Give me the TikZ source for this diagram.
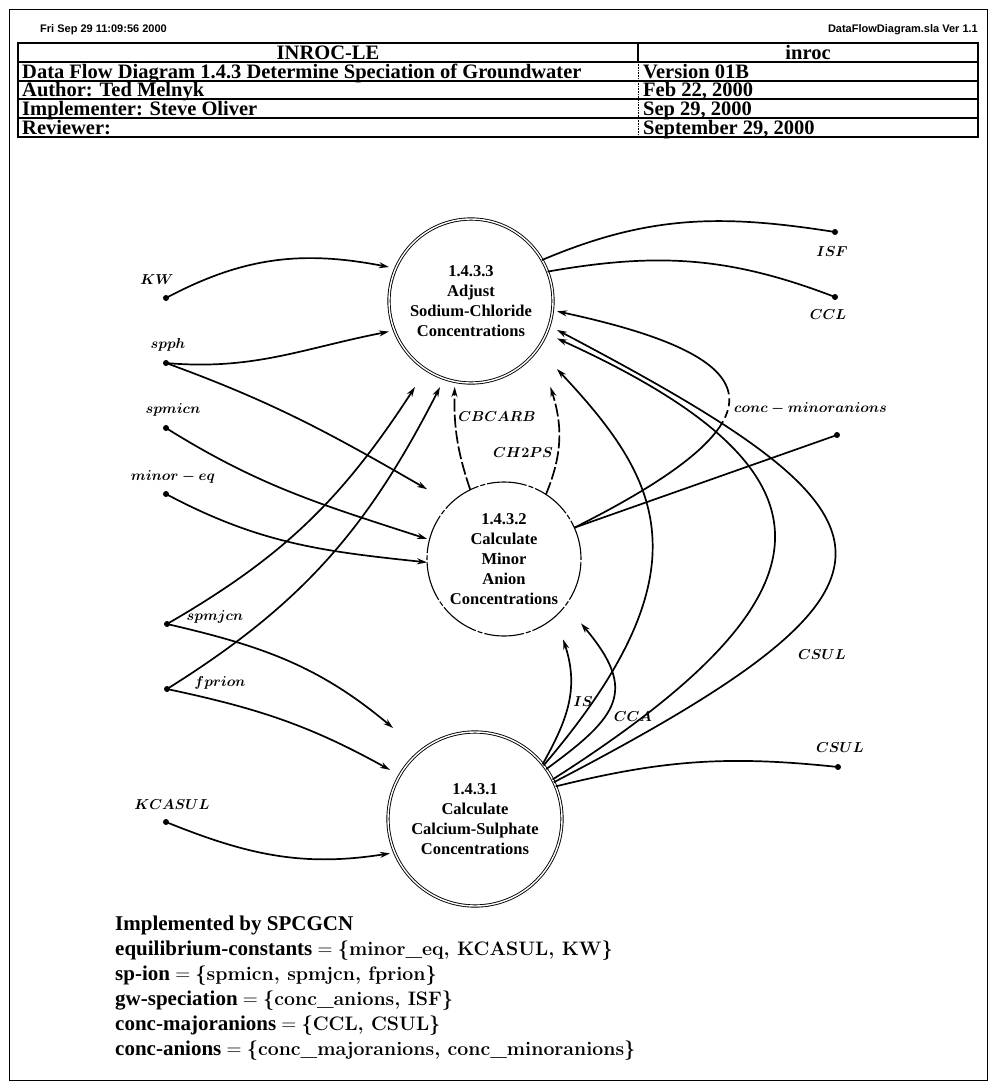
\documentclass[tikz,border=0pt]{standalone}
\usepackage{fontspec}
\newfontfamily\tms{Liberation Serif}
\newfontfamily\hlv{Liberation Sans}
\newcommand\setfnt{\rmfamily\fontseries{bx}\selectfont\fontsize{19.5}{24}\selectfont}
\usetikzlibrary{arrows.meta}
\begin{document}
\begin{tikzpicture}[x=1pt,y=-1pt,
  outerframe/.style={line width=1pt},
  tbl/.style={line width=1.5pt},
  hdr/.style={font=\tms\bfseries\fontsize{20.5}{24}\selectfont, inner sep=0pt, anchor=base west},
  tinytxt/.style={font=\hlv\bfseries\fontsize{11}{12}\selectfont, inner sep=0pt},
  proc/.style={circle, minimum size=#1, inner sep=0pt, outer sep=0pt, align=center, font=\tms\bfseries\fontsize{16.5}{20}\selectfont},
  dbl/.style={draw, line width=0.9pt, double distance=1.4pt},
  dsh/.style={draw, line width=1.1pt, dash pattern=on 40pt off 2pt on 5pt off 2pt},
  box/.style={rectangle, inner sep=0pt, outer sep=0pt},
  dot/.style={circle, fill, inner sep=0pt, minimum size=6pt},
  lab/.style={inner sep=1pt, font=\fontsize{15.5}{17}\selectfont\boldmath},
  flow/.style={line width=1.7pt, -{Stealth[length=10pt,width=6pt]}},
  conn/.style={line width=1.7pt},
  dflow/.style={flow, dash pattern=on 13pt off 3pt},
  btxt/.style={inner sep=0pt, anchor=base west, font=\tms\bfseries\fontsize{21}{24}\selectfont}
]
\useasboundingbox (0,0) rectangle (992,1085);
\draw[outerframe] (9,9) rectangle (987,1080);

% header
\node[tinytxt, anchor=west] (date) at (40,30) {Fri Sep 29 11:09:56 2000};
\node[tinytxt, anchor=east] (file) at (978,30) {DataFlowDiagram.sla Ver 1.1};
\draw[tbl] (18,43) rectangle (978,137);
\foreach \yy in {62,81,99,118} \draw[tbl] (18,\yy) -- (978,\yy);
\draw[tbl] (638,43) -- (638,62);
\draw[line width=0.6pt, densely dotted] (638,62) -- (638,137);
\node[hdr, anchor=base] (t1a) at (328,59) {INROC-LE};
\node[hdr, anchor=base] (t1b) at (808,59) {inroc};
\node[hdr] (t2a) at (22,78) {Data Flow Diagram 1.4.3 Determine Speciation of Groundwater};
\node[hdr] (t2b) at (643,78) {Version 01B};
\node[hdr] (t3a) at (22,96.5) {Author: Ted Melnyk};
\node[hdr] (t3b) at (643,96.5) {Feb 22, 2000};
\node[hdr] (t4a) at (22,115) {Implementer: Steve Oliver};
\node[hdr] (t4b) at (643,115) {Sep 29, 2000};
\node[hdr] (t5a) at (22,134) {Reviewer:};
\node[hdr] (t5b) at (643,134) {September 29, 2000};

% processes
\node[proc=164pt, dbl] (c3) at (471,301) {1.4.3.3\\Adjust\\Sodium-Chloride\\Concentrations};
\node[box, minimum width=168pt, minimum height=172pt] (b3) at (473,301) {};
\node[proc=154pt, dsh] (c2) at (504,559) {1.4.3.2\\Calculate\\Minor\\Anion\\Concentrations};
\node[box, minimum width=154pt, minimum height=157pt] (b2) at (504,561) {};
\node[proc=174pt, dbl] (c1) at (475,819) {1.4.3.1\\Calculate\\Calcium-Sulphate\\Concentrations};
\node[box, minimum width=170pt, minimum height=182pt] (b1) at (475,819) {};

% external ends
\node[dot] (kw) at (166,298) {};
\node[dot] (spph) at (166,363) {};
\node[dot] (spmicn) at (166,428) {};
\node[dot] (minoreq) at (166,494) {};
\node[dot] (spmjcn) at (167,624) {};
\node[dot] (fprion) at (167,689) {};
\node[dot] (kcasul) at (166,822) {};
\node[dot] (isf) at (835,232) {};
\node[dot] (ccl) at (835,297) {};
\node[dot] (cmin) at (837,435) {};
\node[dot] (csul) at (838,767) {};

% labels
\node[lab] (lkw) at (157,280) {$KW$};
\node[lab] (lspph) at (168,345) {$spph$};
\node[lab] (lspmicn) at (173,410) {$spmicn$};
\node[lab] (lminoreq) at (173,477) {$minor-eq$};
\node[lab] (lspmjcn) at (215,617) {$spmjcn$};
\node[lab] (lfprion) at (220,683) {$fprion$};
\node[lab] (lkcasul) at (172,805) {$KCASUL$};
\node[lab] (lisf) at (832,252) {$ISF$};
\node[lab] (lccl) at (828,315) {$CCL$};
\node[lab, anchor=west] (lconc) at (733,408) {$conc-minoranions$};
\node[lab] (lcsul) at (840,748) {$CSUL$};
\node[lab] (lcsul2) at (822,655) {$CSUL$};
\node[lab] (lcbcarb) at (497,417) {$CBCARB$};
\node[lab] (lch2ps) at (523,453) {$CH2PS$};
\node[lab] (lis) at (583,702) {$IS$};
\node[lab] (lcca) at (633,717) {$CCA$};

% inputs
\draw[flow] (kw.center) to[out=28,in=169] (b3.158);
\draw[flow] (spph.center) to[out=-5,in=191] (b3.200);
\draw[flow] (spph.center) to[out=-20,in=150] (b2.137);
\draw[flow] (spmicn.center) to[out=-32,in=162] (b2.164);
\draw[flow] (minoreq.center) to[out=-28,in=174] (b2.181);
\draw[flow] (spmjcn.center) to[out=30,in=237] (b3.236);
\draw[flow] (fprion.center) to[out=32,in=243] (b3.249);
\draw[flow] (spmjcn.center) to[out=-13,in=140] (b1.132);
\draw[flow] (fprion.center) to[out=-12,in=151] (b1.150);
\draw[flow] (kcasul.center) to[out=-22,in=189] (b1.202);

% between processes
\draw[flow] (c1.39) .. controls (566,722) and (580,690) .. (b2.307.7);
\draw[flow] (c1.35) .. controls (619,716) and (638,691) .. (b2.321);
\draw[flow] (c1.38) .. controls (713,567) and (658,477) .. (b3.321.8);
\draw[flow] (c1.27) .. controls (842,595) and (853,473) .. (b3.336.8);
\draw[flow] (c1.25) .. controls (942,580) and (914,518) .. (b3.341);
\draw[flow, dash pattern=on 185pt off 4pt on 8pt off 4pt on 8pt off 4pt on 300pt] (c2.24) .. controls (795,417) and (770,357) .. (b3.353.9);
\draw[dflow] (c2.116) to[bend left=10] (b3.258.2);
\draw[dflow] (c2.57) to[bend right=20] (b3.312.6);

% outputs
\draw[conn] (c1.22) to[bend left=10] (csul.center);
\draw[conn] (c2.24) -- (cmin.center);
\draw[conn] (c3.30) to[out=23,in=171] (isf.center);
\draw[conn] (c3.21) to[out=10,in=159] (ccl.center);

% bottom text
\node[btxt] (n1) at (115,930) {Implemented by SPCGCN};
\node[btxt] (n2) at (115,955) {equilibrium-constants $=$ {\setfnt\{minor\_eq, KCASUL, KW\}}};
\node[btxt] (n3) at (115,980) {sp-ion $=$ {\setfnt\{spmicn, spmjcn, fprion\}}};
\node[btxt] (n4) at (115,1005) {gw-speciation $=$ {\setfnt\{conc\_anions, ISF\}}};
\node[btxt] (n5) at (115,1030) {conc-majoranions $=$ {\setfnt\{CCL, CSUL\}}};
\node[btxt] (n6) at (115,1055) {conc-anions $=$ {\setfnt\{conc\_majoranions, conc\_minoranions\}}};
\end{tikzpicture}
\end{document}
